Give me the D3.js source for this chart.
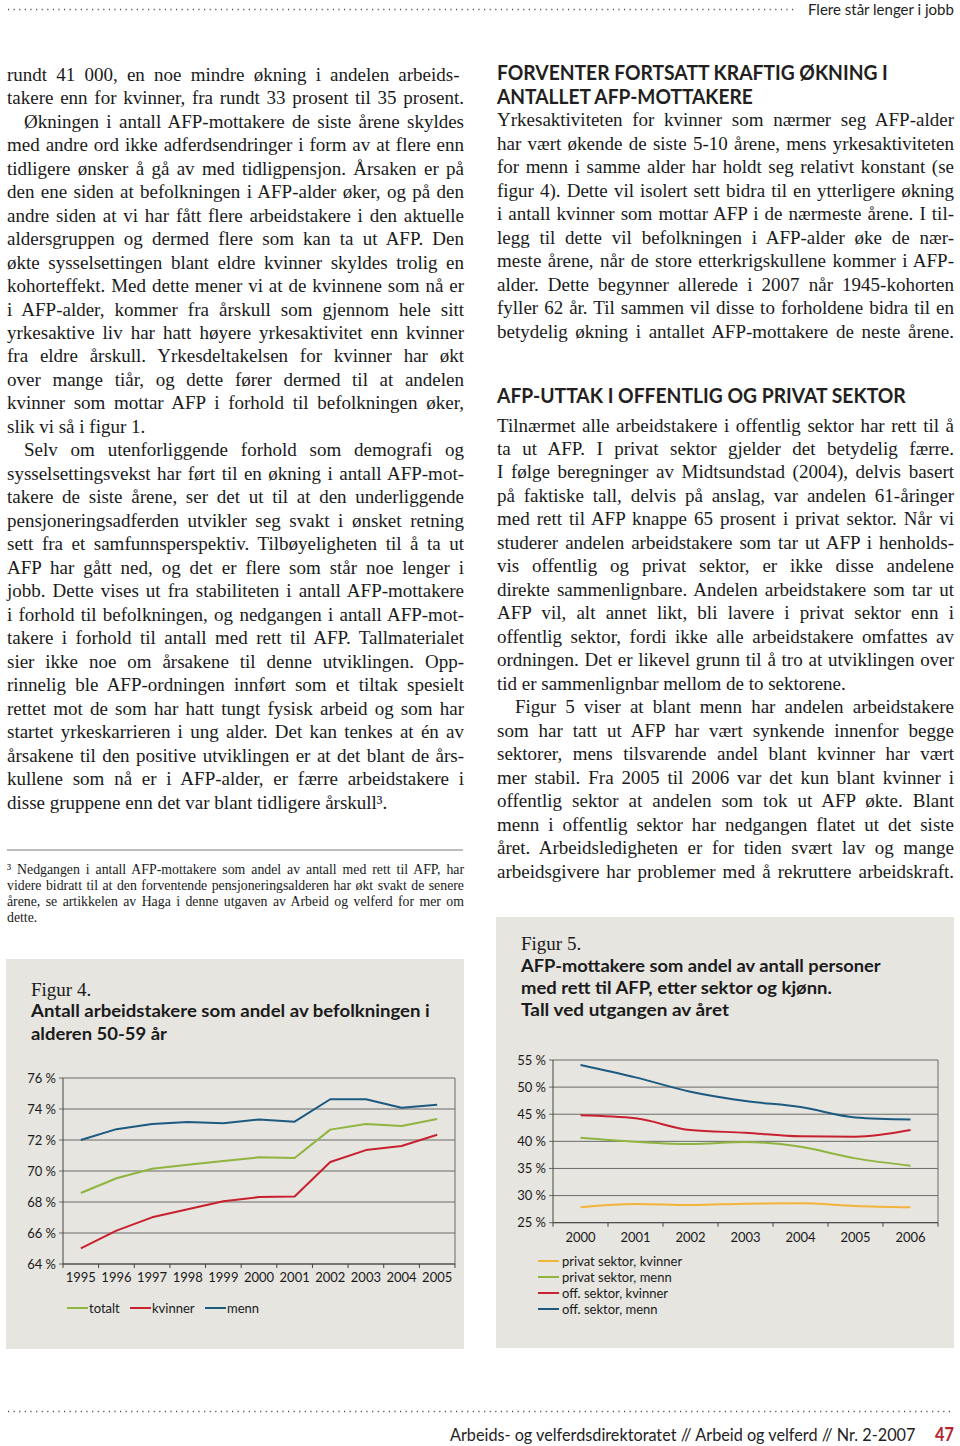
<!DOCTYPE html>
<html>
<head>
<meta charset="utf-8">
<script src="https://cdn.jsdelivr.net/npm/d3@7"></script>
<style>
  html, body { margin: 0; padding: 0; background: #fff; }
  svg { display: block; }
</style>
</head>
<body>
<svg id="page" width="960" height="1446"></svg>
<script>
// ---------------- DATA ----------------
const years4 = ["1995","1996","1997","1998","1999","2000","2001","2002","2003","2004","2005"];
const totalt  = [68.58, 69.53, 70.15, 70.41, 70.65, 70.88, 70.84, 72.67, 73.03, 72.90, 73.35];
const kvinner = [65.01, 66.15, 67.01, 67.53, 68.05, 68.32, 68.36, 70.58, 71.35, 71.61, 72.34];
const menn    = [72.00, 72.70, 73.03, 73.16, 73.08, 73.33, 73.18, 74.63, 74.63, 74.08, 74.28];
const yTicks4 = [64, 66, 68, 70, 72, 74, 76];
const legend4 = ["totalt", "kvinner", "menn"];

const years5 = ["2000","2001","2002","2003","2004","2005","2006"];
const privatKvinner = [27.83, 28.44, 28.25, 28.50, 28.57, 28.07, 27.83];
const privatMenn    = [40.67, 39.93, 39.50, 39.87, 39.00, 36.86, 35.50];
const offKvinner    = [44.79, 44.24, 42.08, 41.59, 40.92, 40.85, 42.08];
const offMenn       = [54.08, 51.80, 49.16, 47.44, 46.33, 44.42, 44.05];
const yTicks5 = [25, 30, 35, 40, 45, 50, 55];
const legend5 = ["privat sektor, kvinner", "privat sektor, menn", "off. sektor, kvinner", "off. sektor, menn"];

// ---------------- TEXT ----------------
// [text, justified, indent]
const leftLines = [
  ["rundt 41  000, en noe mindre økning i andelen arbeids-", 1, 0],
  ["takere enn for kvinner, fra rundt 33 prosent til 35 prosent.", 1, 0],
  ["Økningen i antall AFP-mottakere de siste årene skyldes", 1, 1],
  ["med andre ord ikke adferdsendringer i form av at flere enn", 1, 0],
  ["tidligere ønsker å gå av med tidligpensjon. Årsaken er på", 1, 0],
  ["den ene siden at befolkningen i AFP-alder øker, og på den", 1, 0],
  ["andre siden at vi har fått flere arbeidstakere i den aktuelle", 1, 0],
  ["aldersgruppen og dermed flere som kan ta ut AFP. Den", 1, 0],
  ["økte sysselsettingen blant eldre kvinner skyldes trolig en", 1, 0],
  ["kohorteffekt. Med dette mener vi at de kvinnene som nå er", 1, 0],
  ["i AFP-alder, kommer fra årskull som gjennom hele sitt", 1, 0],
  ["yrkesaktive liv har hatt høyere yrkesaktivitet enn kvinner", 1, 0],
  ["fra eldre årskull. Yrkesdeltakelsen for kvinner har økt", 1, 0],
  ["over mange tiår, og dette fører dermed til at andelen", 1, 0],
  ["kvinner som mottar AFP i forhold til befolkningen øker,", 1, 0],
  ["slik vi så i figur 1.", 0, 0],
  ["Selv om utenforliggende forhold som demografi og", 1, 1],
  ["sysselsettingsvekst har ført til en økning i antall AFP-mot-", 1, 0],
  ["takere de siste årene, ser det ut til at den underliggende", 1, 0],
  ["pensjoneringsadferden utvikler seg svakt i ønsket retning", 1, 0],
  ["sett fra et samfunnsperspektiv. Tilbøyeligheten til å ta ut", 1, 0],
  ["AFP har gått ned, og det er flere som står noe lenger i", 1, 0],
  ["jobb. Dette vises ut fra stabiliteten i antall AFP-mottakere", 1, 0],
  ["i forhold til befolkningen, og nedgangen i antall AFP-mot-", 1, 0],
  ["takere i forhold til antall med rett til AFP. Tallmaterialet", 1, 0],
  ["sier ikke noe om årsakene til denne utviklingen. Opp-", 1, 0],
  ["rinnelig ble AFP-ordningen innført som et tiltak spesielt", 1, 0],
  ["rettet mot de som har hatt tungt fysisk arbeid og som har", 1, 0],
  ["startet yrkeskarrieren i ung alder. Det kan tenkes at én av", 1, 0],
  ["årsakene til den positive utviklingen er at det blant de års-", 1, 0],
  ["kullene som nå er i AFP-alder, er færre arbeidstakere i", 1, 0],
  ["disse gruppene enn det var blant tidligere årskull³.", 0, 0]
];
const footLines = [
  ["³ Nedgangen i antall AFP-mottakere som andel av antall med rett til AFP, har", 1],
  ["videre bidratt til at den forventende pensjoneringsalderen har økt svakt de senere", 1],
  ["årene, se artikkelen av Haga i denne utgaven av Arbeid og velferd for mer om", 1],
  ["dette.", 0]
];
const heading1 = ["FORVENTER FORTSATT KRAFTIG ØKNING I", "ANTALLET AFP-MOTTAKERE"];
const rightLines1 = [
  ["Yrkesaktiviteten for kvinner som nærmer seg AFP-alder", 1, 0],
  ["har vært økende de siste 5-10 årene, mens yrkesaktiviteten", 1, 0],
  ["for menn i samme alder har holdt seg relativt konstant (se", 1, 0],
  ["figur 4). Dette vil isolert sett bidra til en ytterligere økning", 1, 0],
  ["i antall kvinner som mottar AFP i de nærmeste årene. I til-", 1, 0],
  ["legg til dette vil befolkningen i AFP-alder øke de nær-", 1, 0],
  ["meste årene, når de store etterkrigskullene kommer i AFP-", 1, 0],
  ["alder. Dette begynner allerede i 2007 når 1945-kohorten", 1, 0],
  ["fyller 62 år. Til sammen vil disse to forholdene bidra til en", 1, 0],
  ["betydelig økning i antallet AFP-mottakere de neste årene.", 1, 0]
];
const heading2 = "AFP-UTTAK I OFFENTLIG OG PRIVAT SEKTOR";
const rightLines2 = [
  ["Tilnærmet alle arbeidstakere i offentlig sektor har rett til å", 1, 0],
  ["ta ut AFP. I privat sektor gjelder det betydelig færre.", 1, 0],
  ["I følge beregninger av Midtsundstad (2004), delvis basert", 1, 0],
  ["på faktiske tall, delvis på anslag, var andelen 61-åringer", 1, 0],
  ["med rett til AFP knappe 65 prosent i privat sektor. Når vi", 1, 0],
  ["studerer andelen arbeidstakere som tar ut AFP i henholds-", 1, 0],
  ["vis offentlig og privat sektor, er ikke disse andelene", 1, 0],
  ["direkte sammenlignbare. Andelen arbeidstakere som tar ut", 1, 0],
  ["AFP vil, alt annet likt, bli lavere i privat sektor enn i", 1, 0],
  ["offentlig sektor, fordi ikke alle arbeidstakere omfattes av", 1, 0],
  ["ordningen. Det er likevel grunn til å tro at utviklingen over", 1, 0],
  ["tid er sammenlignbar mellom de to sektorene.", 0, 0],
  ["Figur 5 viser at blant menn har andelen arbeidstakere", 1, 1],
  ["som har tatt ut AFP har vært synkende innenfor begge", 1, 0],
  ["sektorer, mens tilsvarende andel blant kvinner har vært", 1, 0],
  ["mer stabil. Fra 2005 til 2006 var det kun blant kvinner i", 1, 0],
  ["offentlig sektor at andelen som tok ut AFP økte. Blant", 1, 0],
  ["menn i offentlig sektor har nedgangen flatet ut det siste", 1, 0],
  ["året. Arbeidsledigheten er for tiden svært lav og mange", 1, 0],
  ["arbeidsgivere har problemer med å rekruttere arbeidskraft.", 1, 0]
];

// ---------------- DRAW ----------------
const svg = d3.select("#page");
const SERIF = "'Liberation Serif', 'Times New Roman', serif";
const SANS = "Lato, 'Open Sans', sans-serif";
const colors = { green: "#8fb43f", red: "#c8202f", blue: "#1c5a7f", orange: "#f3b23a" };
const BODY = 19;

function textLine(g, x, y, width, txt, justify, opts) {
  const t = g.append("text")
    .attr("x", x).attr("y", y)
    .style("font-family", opts.family)
    .style("font-size", opts.size + "px")
    .attr("fill", opts.fill || "#1a1a1a")
    .text(txt);
  if (justify) {
    const w = t.node().getComputedTextLength();
    const spaces = (txt.match(/ /g) || []).length;
    if (spaces) t.style("word-spacing", ((width - w) / spaces) + "px");
  }
  return t;
}
// horizontally scale a single-line text to a given width (keeps glyph height)
function fitText(g, x, y, width, txt, opts) {
  const t = g.append("text")
    .attr("x", 0).attr("y", 0)
    .style("font-family", opts.family)
    .style("font-size", opts.size + "px")
    .style("font-weight", opts.weight || 400)
    .attr("fill", opts.fill || "#1a1a1a")
    .text(txt);
  const w = t.node().getComputedTextLength();
  t.attr("transform", `translate(${x},${y}) scale(${width / w},1)`);
  return t;
}

const textG = svg.append("g");

// header
svg.append("line").attr("x1", 8).attr("x2", 796).attr("y1", 9.5).attr("y2", 9.5)
  .attr("stroke", "#555").attr("stroke-width", 1.3).attr("stroke-dasharray", "1.2,4.4");
fitText(textG, 808, 15, 146, "Flere står lenger i jobb", { family: SANS, size: 15, fill: "#222" });

// left column
const LH = 23.48;
leftLines.forEach((l, i) => {
  const ind = l[2] ? 17 : 0;
  textLine(textG, 7 + ind, 80.7 + LH * i, 457 - ind, l[0], l[1], { family: SERIF, size: BODY });
});

// footnote
svg.append("line").attr("x1", 7).attr("x2", 463).attr("y1", 850).attr("y2", 850)
  .attr("stroke", "#a8a8a8").attr("stroke-width", 1.5);
footLines.forEach((l, i) => {
  textLine(textG, 7, 873.5 + 16 * i, 457, l[0], l[1], { family: SERIF, size: 13.8 });
});

// right column
const HS = 20;
fitText(textG, 497, 80, 391, heading1[0], { family: SANS, size: HS, weight: 700, fill: "#231f20" });
fitText(textG, 497, 104, 256, heading1[1], { family: SANS, size: HS, weight: 700, fill: "#231f20" });
rightLines1.forEach((l, i) => {
  const ind = l[2] ? 18 : 0;
  textLine(textG, 497 + ind, 126.3 + LH * i, 457 - ind, l[0], l[1], { family: SERIF, size: BODY });
});
fitText(textG, 497, 403, 409, heading2, { family: SANS, size: HS, weight: 700, fill: "#231f20" });
rightLines2.forEach((l, i) => {
  const ind = l[2] ? 18 : 0;
  textLine(textG, 497 + ind, 431.5 + LH * i, 457 - ind, l[0], l[1], { family: SERIF, size: BODY });
});

// footer
svg.append("line").attr("x1", 8).attr("x2", 954).attr("y1", 1411.5).attr("y2", 1411.5)
  .attr("stroke", "#555").attr("stroke-width", 1.3).attr("stroke-dasharray", "1.2,4.4");
fitText(textG, 450, 1441, 466, "Arbeids- og velferdsdirektoratet // Arbeid og velferd // Nr. 2-2007", { family: SANS, size: 18, fill: "#222" });
fitText(textG, 935, 1441, 19, "47", { family: SANS, size: 18, weight: 700, fill: "#b5242f" });

// ---------------- FIGURE 4 ----------------
const f4 = svg.append("g");
f4.append("rect").attr("x", 6).attr("y", 959).attr("width", 458).attr("height", 390).attr("fill", "#e6e5e0");
f4.append("text").attr("x", 31).attr("y", 996).style("font-family", SERIF).style("font-size", "19px")
  .attr("fill", "#1a1a1a").text("Figur 4.");
fitText(f4, 31, 1017, 399, "Antall arbeidstakere som andel av befolkningen i", { family: SANS, size: 17, weight: 700 });
fitText(f4, 31, 1040, 136, "alderen 50-59 år", { family: SANS, size: 17, weight: 700 });

const x4 = d3.scaleBand().domain(years4).range([63, 455]);
const y4 = d3.scaleLinear().domain([64, 76]).range([1264, 1078]);

f4.append("g").selectAll("line").data(yTicks4).join("line")
  .attr("x1", 59).attr("x2", 455).attr("y1", d => y4(d)).attr("y2", d => y4(d))
  .attr("stroke", "#6b6b6b").attr("stroke-width", 1);
f4.append("line").attr("x1", 455).attr("x2", 455).attr("y1", 1078).attr("y2", 1264).attr("stroke", "#6b6b6b");
f4.append("line").attr("x1", 63).attr("x2", 63).attr("y1", 1078).attr("y2", 1264).attr("stroke", "#444");
f4.append("line").attr("x1", 63).attr("x2", 455).attr("y1", 1264).attr("y2", 1264).attr("stroke", "#444");
f4.append("g").selectAll("line").data(years4.concat(["end"])).join("line")
  .attr("x1", (d, i) => 63 + i * x4.step()).attr("x2", (d, i) => 63 + i * x4.step())
  .attr("y1", 1264).attr("y2", 1268).attr("stroke", "#444");
f4.append("g").selectAll("text").data(yTicks4).join("text")
  .attr("x", 56).attr("y", d => y4(d) + 4.5).attr("text-anchor", "end")
  .style("font-family", SANS).style("font-size", "13px").attr("fill", "#1a1a1a")
  .text(d => d + " %");
f4.append("g").selectAll("text").data(years4).join("text")
  .attr("x", d => x4(d) + x4.bandwidth() / 2).attr("y", 1282).attr("text-anchor", "middle")
  .style("font-family", SANS).style("font-size", "13px").attr("fill", "#1a1a1a")
  .text(d => d);

const series4 = [
  { name: "totalt", values: totalt, color: colors.green },
  { name: "kvinner", values: kvinner, color: colors.red },
  { name: "menn", values: menn, color: colors.blue }
];
const line4 = d3.line().x((d, i) => x4(years4[i]) + x4.bandwidth() / 2).y(d => y4(d));
f4.append("g").selectAll("path").data(series4).join("path")
  .attr("d", d => line4(d.values)).attr("fill", "none")
  .attr("stroke", d => d.color).attr("stroke-width", 2).attr("stroke-linejoin", "round");

const leg4x = [67, 130, 205];
legend4.forEach((name, i) => {
  f4.append("line").attr("x1", leg4x[i]).attr("x2", leg4x[i] + 21).attr("y1", 1308).attr("y2", 1308)
    .attr("stroke", series4[i].color).attr("stroke-width", 2);
  f4.append("text").attr("x", leg4x[i] + 22).attr("y", 1312.5)
    .style("font-family", SANS).style("font-size", "13px").attr("fill", "#1a1a1a").text(name);
});

// ---------------- FIGURE 5 ----------------
const f5 = svg.append("g");
f5.append("rect").attr("x", 496).attr("y", 917).attr("width", 458).attr("height", 431).attr("fill", "#e6e5e0");
f5.append("text").attr("x", 521).attr("y", 950).style("font-family", SERIF).style("font-size", "19px")
  .attr("fill", "#1a1a1a").text("Figur 5.");
fitText(f5, 521, 972, 360, "AFP-mottakere som andel av antall personer", { family: SANS, size: 17, weight: 700 });
fitText(f5, 521, 994, 311, "med rett til AFP, etter sektor og kjønn.", { family: SANS, size: 17, weight: 700 });
fitText(f5, 521, 1016, 208, "Tall ved utgangen av året", { family: SANS, size: 17, weight: 700 });

const x5 = d3.scaleBand().domain(years5).range([553, 938]);
const y5 = d3.scaleLinear().domain([25, 55]).range([1222.7, 1060]);

f5.append("g").selectAll("line").data(yTicks5).join("line")
  .attr("x1", 549).attr("x2", 938).attr("y1", d => y5(d)).attr("y2", d => y5(d))
  .attr("stroke", "#6b6b6b").attr("stroke-width", 1);
f5.append("line").attr("x1", 938).attr("x2", 938).attr("y1", 1060).attr("y2", 1222.7).attr("stroke", "#6b6b6b");
f5.append("line").attr("x1", 553).attr("x2", 553).attr("y1", 1060).attr("y2", 1222.7).attr("stroke", "#444");
f5.append("line").attr("x1", 553).attr("x2", 938).attr("y1", 1222.7).attr("y2", 1222.7).attr("stroke", "#444");
f5.append("g").selectAll("line").data(years5.concat(["end"])).join("line")
  .attr("x1", (d, i) => 553 + i * x5.step()).attr("x2", (d, i) => 553 + i * x5.step())
  .attr("y1", 1222.7).attr("y2", 1226.7).attr("stroke", "#444");
f5.append("g").selectAll("text").data(yTicks5).join("text")
  .attr("x", 546).attr("y", d => y5(d) + 4.5).attr("text-anchor", "end")
  .style("font-family", SANS).style("font-size", "13px").attr("fill", "#1a1a1a")
  .text(d => d + " %");
f5.append("g").selectAll("text").data(years5).join("text")
  .attr("x", d => x5(d) + x5.bandwidth() / 2).attr("y", 1242).attr("text-anchor", "middle")
  .style("font-family", SANS).style("font-size", "13px").attr("fill", "#1a1a1a")
  .text(d => d);

const series5 = [
  { name: legend5[0], values: privatKvinner, color: colors.orange },
  { name: legend5[1], values: privatMenn, color: colors.green },
  { name: legend5[2], values: offKvinner, color: colors.red },
  { name: legend5[3], values: offMenn, color: colors.blue }
];
const line5 = d3.line().curve(d3.curveMonotoneX)
  .x((d, i) => x5(years5[i]) + x5.bandwidth() / 2).y(d => y5(d));
f5.append("g").selectAll("path").data(series5).join("path")
  .attr("d", d => line5(d.values)).attr("fill", "none")
  .attr("stroke", d => d.color).attr("stroke-width", 2).attr("stroke-linejoin", "round");

series5.forEach((s, i) => {
  const yy = 1261 + 16 * i;
  f5.append("line").attr("x1", 538).attr("x2", 559).attr("y1", yy).attr("y2", yy)
    .attr("stroke", s.color).attr("stroke-width", 2);
  f5.append("text").attr("x", 562).attr("y", yy + 4.5)
    .style("font-family", SANS).style("font-size", "13px").attr("fill", "#1a1a1a").text(s.name);
});
</script>
</body>
</html>
